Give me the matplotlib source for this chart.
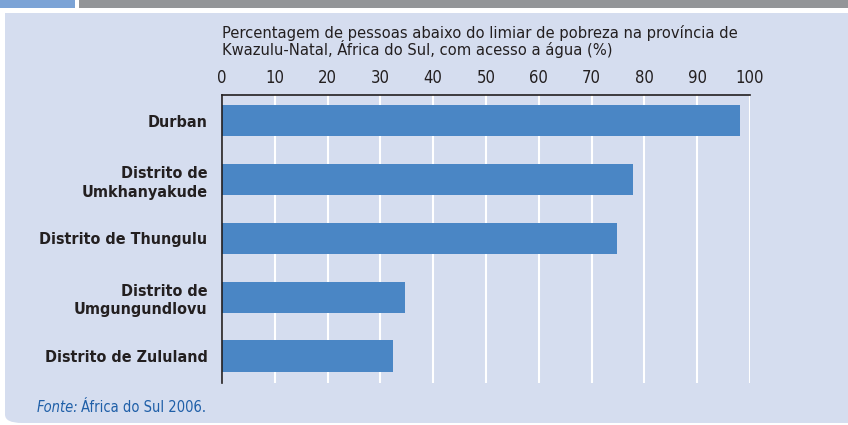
import matplotlib
matplotlib.use('Agg')
import matplotlib.pyplot as plt
from matplotlib.patches import FancyBboxPatch, Rectangle

# data
districts = ['Durban', 'Distrito de\nUmkhanyakude', 'Distrito de Thungulu',
             'Distrito de\nUmgungundlovu', 'Distrito de Zululand']
values = [98.2, 77.8, 74.8, 34.7, 32.4]
xticks = [0, 10, 20, 30, 40, 50, 60, 70, 80, 90, 100]

title = ('Percentagem de pessoas abaixo do limiar de pobreza na província de\n'
         'Kwazulu-Natal, África do Sul, com acesso a água (%)')

fnt = dict(family='DejaVu Sans', stretch='condensed')
W, H = 848, 425

fig = plt.figure(figsize=(W / 100, H / 100), dpi=100)
fig.patch.set_facecolor('white')

# light blue panel with rounded corner
panel = FancyBboxPatch((5 / W, 2 / H), 1.2, 1.2,
                       boxstyle='round,pad=0,rounding_size=0.02',
                       transform=fig.transFigure, facecolor='#d5ddef',
                       edgecolor='none', zorder=-3)
fig.patches.append(panel)
fig.patches.append(Rectangle((0, 1 - 13 / H), 1, 13 / H, transform=fig.transFigure,
                             facecolor='white', edgecolor='none', zorder=-2))
# header strip
fig.patches.append(Rectangle((0, 1 - 8 / H), 75 / W, 8 / H, transform=fig.transFigure,
                             facecolor='#7ba3d6', edgecolor='none', zorder=-1))
fig.patches.append(Rectangle((79 / W, 1 - 8 / H), 1, 8 / H, transform=fig.transFigure,
                             facecolor='#939598', edgecolor='none', zorder=-1))

ax = fig.add_axes([222 / W, 1 - 383 / H, 528 / W, 288 / H])
ax.set_facecolor('none')
ax.set_zorder(5)

ypos = list(range(len(districts)))
ax.barh(ypos, values, height=0.53, color='#4a86c5', zorder=3)

ax.set_xlim(0, 100)
ax.set_ylim(4.46, -0.44)
ax.set_xticks(xticks)
ax.xaxis.tick_top()
ax.set_xticklabels([str(t) for t in xticks], fontsize=12, color='#231f20', **fnt)
ax.tick_params(axis='x', length=0, pad=6)
ax.set_yticks(ypos)
ax.set_yticklabels(districts, fontsize=11.5, fontweight='bold',
                   color='#231f20', linespacing=1.3, **fnt)
ax.tick_params(axis='y', length=0, pad=10.5)
ax.grid(axis='x', color='white', lw=1.5, zorder=1)
ax.set_axisbelow(True)

for s in ['right', 'bottom']:
    ax.spines[s].set_visible(False)
for s in ['top', 'left']:
    ax.spines[s].set_color('#231f20')
    ax.spines[s].set_linewidth(1.2)
    ax.spines[s].set_zorder(4)

fig.text(222 / W, 1 - 25 / H, title, fontsize=11.8, color='#231f20',
         va='top', ha='left', linespacing=0.95, **fnt)

t1 = fig.text(37 / W, 1 - 408 / H, 'Fonte:', fontsize=10.5, style='italic',
              color='#1f5fa8', va='center', ha='left', **fnt)
ax.annotate('África do Sul 2006.', xy=(1, 0.5), xycoords=t1, xytext=(2, 0),
            textcoords='offset points', fontsize=10.5, color='#1f5fa8',
            va='center', ha='left', annotation_clip=False, **fnt)

fig.savefig('out.png', dpi=100)
